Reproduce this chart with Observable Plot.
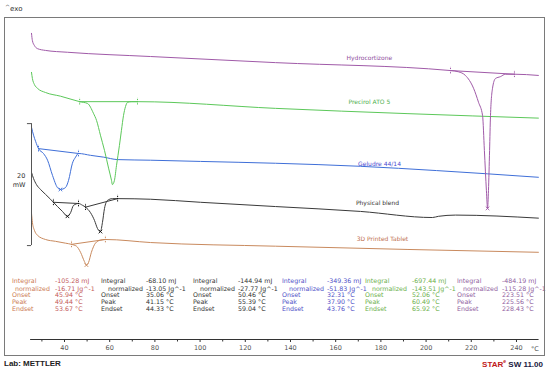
<!DOCTYPE html>
<html><head><meta charset="utf-8">
<script src="https://cdn.jsdelivr.net/npm/d3@7"></script>
<script src="https://cdn.jsdelivr.net/npm/@observablehq/plot@0.6"></script>
<style>
body{margin:0;background:#fff;}
#wrap{position:relative;width:550px;height:374px;overflow:hidden;font-family:"DejaVu Sans",sans-serif;}
#wrap svg{position:absolute;left:0;top:0;}
.frame{position:absolute;left:4px;top:17px;width:539px;height:337px;border:1px solid #7a7a7a;pointer-events:none;}
.t{position:absolute;white-space:nowrap;font-size:6.3px;line-height:1;transform:translateY(-50%);}
.foot{position:absolute;white-space:nowrap;font-family:"Liberation Sans",Arial,sans-serif;font-weight:bold;font-size:8px;line-height:1;transform:translateY(-50%);}
</style></head><body><div id="wrap"></div>
<script>
// ---- curve data: [temperature °C, heat flow mW] ----
const hydrocortisone = [[25.4,50.2],[25.8,49.0],[26.7,48.2],[28.0,47.7],[31.6,47.4],[41.3,47.1],[78.1,46.4],[133.4,45.4],[210.8,44.1],[214.3,43.9],[217.4,43.3],[221.0,41.2],[223.2,38.9],[225.0,36.7],[225.8,31.0],[226.7,24.4],[227.2,21.5],[227.6,24.4],[228.1,31.0],[228.5,36.7],[229.4,41.2],[230.7,42.8],[232.9,43.1],[235.1,43.5],[239.1,43.5],[249.7,43.3]];
const precirol = [[25.4,43.8],[25.8,42.8],[26.7,41.8],[28.0,41.2],[31.6,40.5],[38.2,39.9],[46.7,39.0],[50.2,38.7],[52.8,37.1],[54.2,35.9],[55.9,33.5],[57.7,31.0],[59.5,28.1],[60.8,26.1],[61.2,25.4],[62.1,26.1],[63.0,28.5],[64.3,31.8],[65.2,34.3],[66.1,36.7],[67.0,38.2],[67.9,38.9],[69.7,39.0],[72.3,39.0],[133.4,37.9],[249.7,36.3]];
const geludre = [[25.4,34.8],[26.3,33.5],[27.2,32.5],[28.5,31.3],[30.7,30.5],[32.5,29.4],[34.7,26.9],[36.9,24.9],[38.2,24.6],[40.4,24.9],[41.8,26.1],[43.5,28.9],[44.9,29.9],[46.2,30.5],[51.5,30.2],[57.3,29.9],[63.5,29.5],[78.1,29.4],[100.2,29.2],[133.4,28.9],[171.0,28.4],[204.6,27.7],[249.7,26.6]];
const physicalBlend = [[25.4,27.4],[26.3,26.4],[27.6,25.4],[29.4,24.6],[31.6,23.8],[33.8,23.0],[35.1,22.5],[36.9,21.8],[39.1,21.0],[41.3,20.2],[42.7,20.8],[44.0,22.0],[46.2,22.3],[48.0,22.0],[49.3,21.7],[51.5,20.8],[53.3,19.5],[54.6,18.2],[55.9,17.7],[56.8,19.2],[57.7,21.5],[59.0,22.8],[61.2,23.1],[63.5,23.1],[78.1,23.0],[100.2,22.5],[133.4,21.8],[171.0,21.0],[202.8,20.0],[205.5,20.2],[213.0,20.4],[249.7,19.9]];
const printedTablet = [[25.4,20.7],[25.8,19.2],[26.7,17.9],[28.0,17.1],[31.6,16.4],[36.0,16.1],[40.4,15.8],[43.1,15.6],[45.3,15.3],[47.1,14.3],[48.8,12.8],[49.7,12.2],[50.6,12.6],[51.9,14.3],[53.7,15.8],[55.9,16.3],[58.1,16.4],[78.1,15.9],[133.4,15.3],[249.7,14.3]];

// integration baselines (limits) and peak points
const hydroBaseline = [[210.8,44.1],[239.1,43.5]];
const precirolBaseline = [[46.7,39.0],[72.3,39.0]];
const geludreBaseline = [[28.5,31.3],[46.2,30.5]];
const blendBaseline1 = [[35.1,22.5],[46.2,22.3]];
const blendBaseline2 = [[49.3,21.7],[63.5,23.1]];
const tabletBaseline = [[43.1,15.6],[58.1,16.4]];
const hydroPeaks = [[227.2,21.5]];
const geludrePeaks = [[38.2,24.6]];
const blendPeaks = [[41.3,20.2],[55.9,17.7]];
const tabletPeaks = [[49.7,12.2]];

const curveNames = ["Hydrocortizone","Precirol ATO 5","Geludre 44/14","Physical blend","3D Printed Tablet"];
const curveLabelAt = [[174.9,46.1],[174.9,38.9],[179.4,28.7],[178.5,22.3],[180.7,16.4]];

// axis
const axisSpan = [25, 250];
const majorTicks = [40,60,80,100,120,140,160,180,200,220,240];
const minorTicks = [30,50,70,90,110,130,150,170,190,210,230];
const scaleBar = {x: 25.4, xTick: 23.6, low: 15.4, high: 35.4, value: "20", unit: "mW"};

// results table
const rowLabels = ["Integral","normalized","Onset","Peak","Endset"];
const integrals = ["-105.28 mJ","-68.10 mJ","-144.94 mJ","-349.36 mJ","-697.44 mJ","-484.19 mJ"];
const normalized = ["-16.71 Jg^-1","-13.05 Jg^-1","-27.77 Jg^-1","-51.83 Jg^-1","-143.51 Jg^-1","-115.28 Jg^-1"];
const onsets = ["45.94 °C","35.06 °C","50.46 °C","32.31 °C","52.06 °C","223.51 °C"];
const peaksT = ["49.44 °C","41.15 °C","55.39 °C","37.90 °C","60.49 °C","225.56 °C"];
const endsets = ["53.67 °C","44.33 °C","59.04 °C","43.76 °C","65.92 °C","228.43 °C"];

// ---- styles ----
const curveColors = ["#a05aa8","#5cc85a","#3f6fd8","#3a3a3a","#c98a5e"];
const labelColors = ["#9050a0","#50b050","#4a4ad0","#333333","#c07050"];
const tableLabelColors = ["#cc7a52","#333","#333","#5050c8","#6cb04c","#9060a0"];
const tableValueColors = ["#c45a5a","#333","#333","#5050c8","#6cb04c","#9060a0"];
const colLabelX = [12,101,193,282,365,457];
const colNormX = [15,108,200,289,372,463];
const colValueX = [55,146,238,327,412,502];
const rowY = [281.3,288.7,295.3,302,308.7];

const curves = [hydrocortisone, precirol, geludre, physicalBlend, printedTablet];
const baselines = [[hydroBaseline],[precirolBaseline],[geludreBaseline],[blendBaseline1, blendBaseline2],[tabletBaseline]];
const peakSets = [hydroPeaks, [], geludrePeaks, blendPeaks, tabletPeaks];

const X = d => d[0], Y = d => d[1];
const marks = [];
for (const i of [4,3,2,1,0]) {
  const c = curveColors[i];
  const mc = i === 3 ? "#111" : c;
  marks.push(Plot.line(curves[i], {x: X, y: Y, stroke: c, strokeWidth: 1, curve: "monotone-x"}));
  const ends = [];
  for (const seg of baselines[i]) {
    marks.push(Plot.line(seg, {x: X, y: Y, stroke: c, strokeWidth: 1}));
    ends.push(...seg);
  }
  marks.push(Plot.ruleX(ends, {x: X, y1: d => d[1] - 0.55, y2: d => d[1] + 0.55, stroke: mc, strokeWidth: 1, strokeDasharray: "1.3,0.9"}));
  if (peakSets[i].length) marks.push(Plot.dot(peakSets[i], {x: X, y: Y, symbol: "times", r: 1.8, stroke: mc, strokeWidth: 0.9}));
}
marks.push(Plot.text(curveNames, {x: (d, i) => curveLabelAt[i][0], y: (d, i) => curveLabelAt[i][1], text: d => d, fill: (d, i) => labelColors[i], fontSize: 6, textAnchor: "middle"}));
// scale bar
marks.push(Plot.ruleX([scaleBar], {x: "x", y1: "low", y2: "high", stroke: "#555", strokeWidth: 1}));
marks.push(Plot.ruleY([scaleBar.low, scaleBar.high], {y: d => d, x1: scaleBar.xTick, x2: scaleBar.x, stroke: "#555", strokeWidth: 1}));
marks.push(Plot.text([scaleBar], {x: 22.7, y: 26.9, text: "value", textAnchor: "end", fill: "#333", fontSize: 6.5}));
marks.push(Plot.text([scaleBar], {x: 22.7, y: 25.4, text: "unit", textAnchor: "end", fill: "#333", fontSize: 6.5}));
// temperature axis
marks.push(Plot.ruleY([0], {x1: axisSpan[0], x2: axisSpan[1], stroke: "#333", strokeWidth: 1}));
marks.push(Plot.axisX({ticks: minorTicks, tickSize: 2.5, tickFormat: () => "", stroke: "#333", label: null}));
marks.push(Plot.axisX({ticks: majorTicks, tickSize: 3, tickPadding: 3, tickFormat: d => String(d), stroke: "#333", fill: "#555", fontSize: 6.5, label: null}));

const chart = Plot.plot({
  width: 550, height: 374,
  marginLeft: 4, marginRight: 6, marginTop: 17, marginBottom: 35,
  x: {domain: [13.45, 252.4], label: null},
  y: {domain: [0, 52.8], axis: null, label: null},
  style: {fontFamily: "DejaVu Sans", fontSize: "6.5px", background: "transparent", overflow: "visible"},
  marks
});
const wrap = document.getElementById("wrap");
wrap.appendChild(chart);

function addText(cls, txt, left, top, color, extra) {
  const s = document.createElement("div");
  s.className = cls;
  s.textContent = txt;
  s.style.left = left + "px";
  s.style.top = top + "px";
  s.style.color = color;
  if (extra) Object.assign(s.style, extra);
  wrap.appendChild(s);
  return s;
}
const tableValues = [integrals, normalized, onsets, peaksT, endsets];
for (let c = 0; c < 6; c++) {
  for (let r = 0; r < 5; r++) {
    addText("t", rowLabels[r], r === 1 ? colNormX[c] : colLabelX[c], rowY[r], tableLabelColors[c]);
    addText("t", tableValues[r][c], colValueX[c], rowY[r], tableValueColors[c]);
  }
}
addText("t", "°C", 531, 349, "#555", {fontSize: "6.5px"});
const exo = addText("t", "", 5, 8, "#333", {fontSize: "7px"});
exo.innerHTML = '<span style="font-size:6px;vertical-align:2px">^</span>exo';
addText("foot", "Lab: METTLER", 4, 364, "#222");
const star = addText("foot", "", 0, 364, "#1a1a40", {left: "auto", right: "7px"});
star.innerHTML = '<span style="color:#c01818">STAR</span><sup style="font-size:5px;color:#c01818">e</sup> SW 11.00';
const fr = document.createElement("div"); fr.className = "frame"; wrap.appendChild(fr);
</script></body></html>
